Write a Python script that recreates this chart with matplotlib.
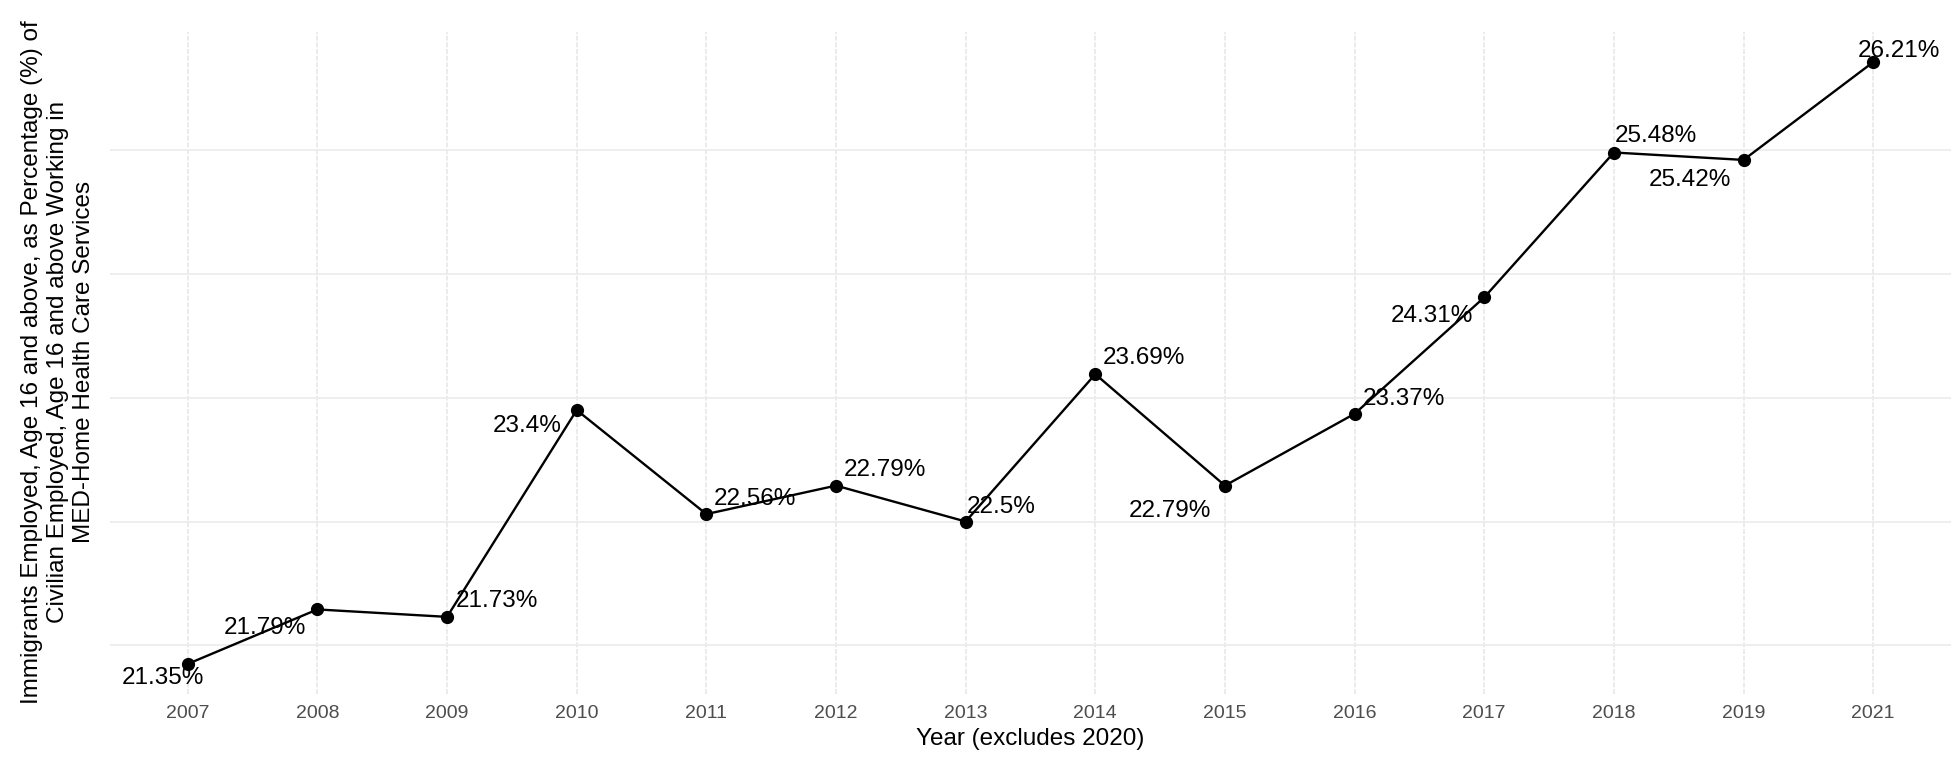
import numpy as np
import matplotlib
matplotlib.use("Agg")
import matplotlib.pyplot as plt

# ----------------------------------------------------------
# data
# ----------------------------------------------------------
years = ["2007", "2008", "2009", "2010", "2011", "2012", "2013",
         "2014", "2015", "2016", "2017", "2018", "2019", "2021"]
share = [21.35, 21.79, 21.73, 23.40, 22.56, 22.79, 22.50,
         23.69, 22.79, 23.37, 24.31, 25.48, 25.42, 26.21]
labels = ["21.35%", "21.79%", "21.73%", "23.4%", "22.56%", "22.79%", "22.5%",
          "23.69%", "22.79%", "23.37%", "24.31%", "25.48%", "25.42%", "26.21%"]

# label offsets in pixels (repel-style placement)
label_dx = [-25, -52, 50, -50, 49, 49, 36, 49, -55, 49, -52, 42, -54, 26]
label_dy = [-14, -19, 16, -16, 15, 16, 15, 16, -25, 15, -19, 17, -20, 11]

plt.rcParams['font.family'] = ['Liberation Sans', 'DejaVu Sans']

fig = plt.figure(figsize=(19.6, 7.64), dpi=100)
ax = fig.add_axes([0.0561, 0.0916, 0.9393, 0.8665])

x = np.arange(len(years))
ax.plot(x, share, color="black", lw=1.7, marker="o", markersize=8.5, zorder=3)

for xi, yi, lab, dx, dy in zip(x, share, labels, label_dx, label_dy):
    ax.annotate(lab, (xi, yi), xytext=(dx, dy), textcoords="offset pixels",
                ha="center", va="center", fontsize=17.5, color="black", zorder=4)

ax.set_xlim(-0.6, len(years) - 1 + 0.6)
lo, hi = min(share), max(share)
pad = (hi - lo) * 0.05
ax.set_ylim(lo - pad, hi + pad)

ax.set_xticks(x)
ax.set_xticklabels(years, fontsize=14, color="#4d4d4d")
ax.set_yticks([21.5, 22.5, 23.5, 24.5, 25.5])
ax.set_yticklabels([])
ax.tick_params(length=0, pad=8)

ax.grid(axis="x", color="#e8e8e8", lw=1.2, ls=(0, (3, 1)))
ax.grid(axis="y", color="#ebebeb", lw=1.2)
ax.set_axisbelow(True)
for s in ax.spines.values():
    s.set_visible(False)

ax.set_xlabel("Year (excludes 2020)", fontsize=17.5, labelpad=4)
fig.text(58 / 1960, 0.526,
         "Immigrants Employed, Age 16 and above, as Percentage (%) of\n"
         "Civilian Employed, Age 16 and above Working in\n"
         "MED-Home Health Care Services",
         rotation=90, ha="center", va="center", multialignment="center",
         fontsize=17.5, linespacing=1.25)

fig.savefig("out.png", dpi=100)
